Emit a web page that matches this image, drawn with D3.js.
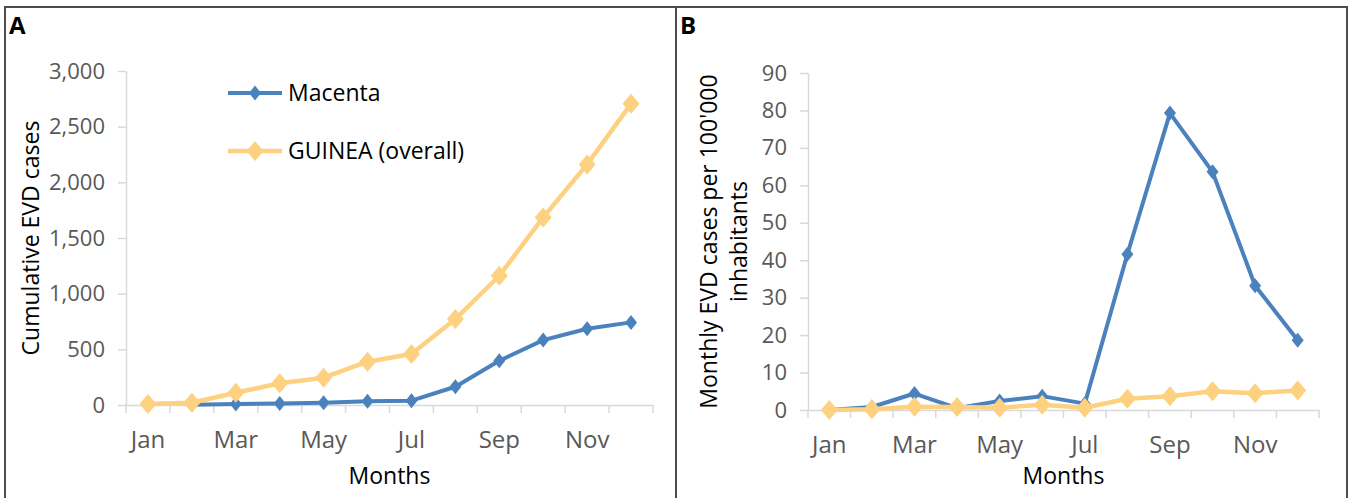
<!DOCTYPE html>
<html lang="en">
  <head>
    <meta charset="UTF-8" />
    <title>EVD cases</title>
    <style>
      body { margin: 0; background: #fff; }
      text { font-family: 'Open Sans', sans-serif; }
      .tick text { fill: #595959; }
    </style>
  </head>
  <body>
    <script src="https://cdn.jsdelivr.net/npm/d3@7"></script>
    <svg width="1351" height="498"></svg>
    <script>
      const months = ['Jan', 'Feb', 'Mar', 'Apr', 'May', 'Jun', 'Jul', 'Aug', 'Sep', 'Oct', 'Nov', 'Dec'];
      const monthLabels = ['Jan', 'Mar', 'May', 'Jul', 'Sep', 'Nov'];
      // panel A: cumulative cases
      const macentaCum = [null, 2, 10, 13, 21, 33, 39, 164, 398, 583, 685, 742];
      const guineaCum = [9, 20, 110, 195, 245, 389, 458, 772, 1161, 1685, 2161, 2705];
      const ticksA = [0, 500, 1000, 1500, 2000, 2500, 3000];
      // panel B: monthly cases per 100'000
      const macentaMonthly = [0, 0.8, 4.4, 0.5, 2.4, 3.7, 1.7, 41.6, 79.3, 63.6, 33.2, 18.6];
      const guineaMonthly = [0, 0.2, 0.9, 0.8, 0.6, 1.4, 0.6, 3.0, 3.7, 5.0, 4.5, 5.2];
      const ticksB = [0, 10, 20, 30, 40, 50, 60, 70, 80, 90];

      const blue = '#4a82bd', orange = '#fdd180', axisColor = '#d9d9d9';
      const svg = d3.select('svg');

      // frame
      const frame = svg.append('g').attr('stroke', '#4d4d4d').attr('stroke-width', 2);
      frame.append('line').attr('x1', 4).attr('x2', 1347).attr('y1', 7).attr('y2', 7);
      [5, 676, 1347].forEach((x) => {
        frame.append('line').attr('x1', x).attr('x2', x).attr('y1', 6).attr('y2', 498);
      });

      function diamond(w, h) {
        return `M0,${-h / 2}L${w / 2},0L0,${h / 2}L${-w / 2},0Z`;
      }

      function drawPanel(opt) {
        const x = d3.scaleBand().domain(months).range(opt.xRange);
        const y = d3.scaleLinear().domain(opt.yDomain).range(opt.yRange);
        const g = svg.append('g');

        // y axis
        const ya = g.append('g')
          .attr('transform', `translate(${opt.xRange[0]},0)`)
          .call(d3.axisLeft(y).tickValues(opt.ticks).tickSize(8).tickPadding(13).tickSizeOuter(0).tickFormat(opt.fmt));
        ya.select('.domain').attr('stroke', axisColor).attr('stroke-width', 1.5);
        ya.selectAll('line').attr('stroke', axisColor).attr('stroke-width', 1.5);
        ya.selectAll('text').attr('font-size', 22).attr('font-family', 'Open Sans');

        // x axis, boundary ticks
        const xa = g.append('g')
          .attr('transform', `translate(0,${opt.yRange[0]})`)
          .call(d3.axisBottom(x).tickValues(monthLabels).tickSize(0).tickPadding(opt.xPad).tickSizeOuter(0));
        xa.select('.domain').attr('stroke', axisColor).attr('stroke-width', 1.5);
        xa.selectAll('text').attr('font-size', 24).attr('font-family', 'Open Sans');
        const bounds = months.map((m) => x(m)).concat([opt.xRange[1]]);
        xa.selectAll('.bound').data(bounds).enter().append('line')
          .attr('x1', (d) => d).attr('x2', (d) => d)
          .attr('y1', 0).attr('y2', 8)
          .attr('stroke', axisColor).attr('stroke-width', 1.5);

        const cx = (i) => x(months[i]) + x.bandwidth() / 2;
        const series = [
          { values: opt.blue, color: blue, width: 4, mw: 12, mh: 15 },
          { values: opt.orange, color: orange, width: 4.5, mw: 17, mh: 20 },
        ];
        series.forEach((s) => {
          const line = d3.line().defined((d) => d != null).x((d, i) => cx(i)).y((d) => y(d));
          g.append('path').datum(s.values)
            .attr('fill', 'none').attr('stroke', s.color)
            .attr('stroke-width', s.width).attr('stroke-linejoin', 'round')
            .attr('d', line);
          g.selectAll(null).data(s.values.map((v, i) => ({ v, i })).filter((d) => d.v != null))
            .enter().append('path')
            .attr('d', diamond(s.mw, s.mh))
            .attr('fill', s.color)
            .attr('transform', (d) => `translate(${cx(d.i)},${y(d.v)})`);
        });

        // titles
        const title = g.append('text')
          .attr('text-anchor', 'middle')
          .attr('transform', `translate(${opt.titleX},${(opt.yRange[0] + opt.yRange[1]) / 2}) rotate(-90)`)
          .attr('font-size', 23).attr('fill', '#000');
        opt.yTitle.forEach((t, i) => {
          title.append('tspan').attr('x', 0).attr('dy', i === 0 ? 0 : 30).text(t);
        });
        g.append('text')
          .attr('x', (opt.xRange[0] + opt.xRange[1]) / 2).attr('y', 484)
          .attr('text-anchor', 'middle').attr('font-size', 23).attr('fill', '#000')
          .text('Months');
        g.append('text')
          .attr('x', opt.labelX).attr('y', 34)
          .attr('font-family', 'Liberation Sans').attr('font-weight', 'bold')
          .attr('font-size', 24).attr('fill', '#000')
          .text(opt.label);
      }

      drawPanel({
        xRange: [126, 653], yDomain: [0, 3000], yRange: [405, 71],
        ticks: ticksA, fmt: d3.format(','), xPad: 26,
        blue: macentaCum, orange: guineaCum,
        yTitle: ['Cumulative EVD cases'], titleX: 39, label: 'A', labelX: 9,
      });
      drawPanel({
        xRange: [808, 1319], yDomain: [0, 90], yRange: [410, 73],
        ticks: ticksB, fmt: d3.format('d'), xPad: 26,
        blue: macentaMonthly, orange: guineaMonthly,
        yTitle: ["Monthly EVD cases per 100'000", 'inhabitants'], titleX: 717, label: 'B', labelX: 680,
      });

      // legend (panel A)
      const legend = svg.append('g');
      const items = [
        { name: 'Macenta', color: blue, width: 4, mw: 12, mh: 15, y: 93 },
        { name: 'GUINEA (overall)', color: orange, width: 4.5, mw: 17, mh: 20, y: 151 },
      ];
      items.forEach((d) => {
        legend.append('line').attr('x1', 228).attr('x2', 282).attr('y1', d.y).attr('y2', d.y)
          .attr('stroke', d.color).attr('stroke-width', d.width);
        legend.append('path').attr('d', diamond(d.mw, d.mh)).attr('fill', d.color)
          .attr('transform', `translate(255,${d.y})`);
        legend.append('text').attr('x', 288).attr('y', d.y).attr('dy', '0.35em')
          .attr('font-size', 23).attr('fill', '#000').text(d.name);
      });
    </script>
  </body>
</html>
